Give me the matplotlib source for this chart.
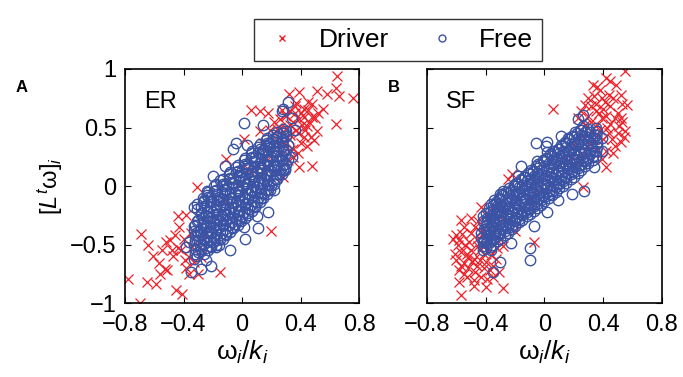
import matplotlib
matplotlib.use("Agg")
import matplotlib.pyplot as plt
from matplotlib.lines import Line2D

plt.rcParams['font.family'] = ['Liberation Sans', 'DejaVu Sans']
plt.rcParams['mathtext.fontset'] = 'custom'
plt.rcParams['mathtext.rm'] = 'Liberation Sans'
plt.rcParams['mathtext.it'] = 'Liberation Sans:italic'

# ---- data: (omega_i/k_i, [L^t omega]_i) ----
# ER panel, driver nodes (red x)
er_driver_x = [0.65, 0.32, 0.39, 0.51, 0.58, 0.64, 0.66, 0.76, 0.64, 0.48, 0.39, 0.12, 0.06, 0.18,
               0.01, -0.11, 0.20, -0.15, -0.69, -0.78, -0.70, -0.64, -0.61, -0.65, -0.59, -0.57,
               -0.53, -0.51, -0.56, -0.52, -0.49, -0.46, -0.43, -0.44, -0.38, -0.31, -0.45, -0.41,
               -0.36, -0.30, -0.28, -0.36, -0.39, -0.34, -0.44,
               0.24, 0.26, 0.29, 0.33, 0.36, 0.39, 0.42, 0.45, 0.48, 0.44, 0.47, 0.42, 0.37, 0.33,
               0.40, 0.44, 0.49, 0.33, 0.28, 0.27, 0.35, 0.31, 0.24, 0.20, 0.17, 0.14, 0.19, 0.12,
               0.37, 0.27, 0.45, 0.51, 0.41,
               0.05, -0.02, -0.13, -0.18, -0.25, -0.29, 0.14, 0.24, 0.28,
               0.22, 0.25, 0.30, 0.32, 0.35, 0.38, 0.40, 0.43, 0.46, 0.50, 0.52, 0.55, 0.48, 0.35,
               0.38, 0.30, 0.26, 0.42, 0.33, 0.36,
               -0.48, -0.42, -0.40, -0.35, -0.33, -0.47, -0.55, -0.38]
er_driver_y = [0.94, 0.79, 0.80, 0.81, 0.79, 0.84, 0.77, 0.75, 0.53, 0.17, 0.16, 0.64, 0.65, 0.62,
               0.40, 0.23, -0.38, -0.73, -0.41, -0.79, -1.00, -0.50, -0.60, -0.82, -0.84, -0.66,
               -0.71, -0.72, -0.75, -0.48, -0.46, -0.42, -0.35, -0.26, -0.25, -0.01, -0.89, -0.92,
               -0.75, -0.75, -0.61, -0.61, -0.63, -0.52, -0.53,
               0.49, 0.57, 0.61, 0.64, 0.68, 0.57, 0.59, 0.65, 0.59, 0.51, 0.42, 0.42, 0.48, 0.44,
               0.37, 0.34, 0.39, 0.31, 0.38, 0.28, 0.25, 0.22, 0.39, 0.28, 0.22, 0.37, 0.48, 0.47,
               0.71, 0.65, 0.72, 0.47, 0.52,
               0.14, 0.02, -0.12, -0.26, -0.41, -0.52, 0.14, 0.14, 0.08,
               0.55, 0.42, 0.50, 0.40, 0.55, 0.45, 0.62, 0.48, 0.55, 0.58, 0.62, 0.66, 0.70, 0.32,
               0.28, 0.60, 0.50, 0.66, 0.52, 0.62,
               -0.55, -0.55, -0.45, -0.40, -0.65, -0.60, -0.55, -0.70]

# ER panel, free nodes (blue o): scattered outer circles
er_free_x = [0.31, 0.28, 0.01, 0.14, 0.27, 0.34, 0.36, 0.34, 0.29, 0.22, 0.18, 0.10, 0.11, 0.02,
             -0.08, -0.21, -0.35, -0.28, -0.36, -0.38, -0.31, -0.33, -0.20, -0.12, -0.06, -0.04,
             0.03, -0.25, -0.18, 0.01]
er_free_y = [0.72, 0.66, 0.54, 0.52, 0.64, 0.58, 0.48, 0.25, 0.14, -0.03, -0.22, -0.26, -0.36, -0.45,
             -0.55, -0.68, -0.73, -0.71, -0.48, -0.52, -0.39, -0.18, 0.09, 0.17, 0.32, 0.37,
             0.35, -0.63, -0.52, -0.35]
# ER panel, free nodes: dense core (solid blue band)
er_core_x = [-0.31, -0.29, -0.30, -0.32, -0.28, -0.31,
             -0.26, -0.24, -0.25, -0.27, -0.23, -0.26, -0.24,
             -0.21, -0.19, -0.20, -0.22, -0.18, -0.21, -0.19,
             -0.16, -0.14, -0.15, -0.13, -0.16, -0.14, -0.15,
             -0.11, -0.09, -0.10, -0.12, -0.08, -0.11, -0.09,
             -0.06, -0.04, -0.05, -0.07, -0.03, -0.06, -0.04,
             -0.01, 0.01, 0.00, -0.02, 0.02, -0.01, 0.01,
             0.04, 0.06, 0.05, 0.03, 0.07, 0.04, 0.06,
             0.09, 0.11, 0.10, 0.08, 0.12, 0.09, 0.11,
             0.14, 0.16, 0.15, 0.13, 0.17, 0.14, 0.16,
             0.19, 0.21, 0.20, 0.18, 0.22, 0.19, 0.21,
             0.24, 0.26, 0.25, 0.23, 0.27, 0.24,
             0.29, 0.31, 0.30, 0.28, 0.30,
             -0.33, -0.32, -0.32, -0.33, -0.31,
             -0.28, -0.27, -0.28, -0.27, -0.28, -0.27,
             -0.23, -0.22, -0.23, -0.22, -0.23, -0.22, -0.23,
             -0.18, -0.17, -0.18, -0.17, -0.18, -0.17, -0.18,
             -0.13, -0.12, -0.13, -0.12, -0.13, -0.12, -0.13,
             -0.08, -0.07, -0.08, -0.07, -0.08, -0.07, -0.08,
             -0.03, -0.02, -0.03, -0.02, -0.03, -0.02, -0.03,
             0.02, 0.03, 0.02, 0.03, 0.02, 0.03, 0.02,
             0.07, 0.08, 0.07, 0.08, 0.07, 0.08, 0.07,
             0.12, 0.13, 0.12, 0.13, 0.12, 0.13, 0.12,
             0.17, 0.18, 0.17, 0.18, 0.17, 0.18, 0.17,
             0.22, 0.23, 0.22, 0.23, 0.22, 0.23,
             0.27, 0.28, 0.27, 0.28, 0.27, 0.28]
er_core_y = [-0.60, -0.50, -0.42, -0.33, -0.25, -0.15,
             -0.58, -0.48, -0.40, -0.31, -0.22, -0.12, -0.04,
             -0.52, -0.44, -0.35, -0.27, -0.18, -0.09, 0.00,
             -0.50, -0.40, -0.30, -0.22, -0.13, -0.05, 0.05,
             -0.42, -0.33, -0.25, -0.16, -0.07, 0.02, 0.10,
             -0.36, -0.28, -0.19, -0.10, -0.02, 0.07, 0.16,
             -0.30, -0.22, -0.13, -0.05, 0.04, 0.12, 0.22,
             -0.25, -0.16, -0.07, 0.02, 0.10, 0.19, 0.28,
             -0.18, -0.10, -0.01, 0.08, 0.16, 0.25, 0.33,
             -0.10, -0.03, 0.06, 0.14, 0.22, 0.31, 0.39,
             -0.03, 0.05, 0.13, 0.21, 0.29, 0.37, 0.44,
             0.06, 0.14, 0.22, 0.30, 0.38, 0.46,
             0.15, 0.23, 0.31, 0.39, 0.47,
             -0.62, -0.54, -0.46, -0.38, -0.30,
             -0.54, -0.45, -0.36, -0.27, -0.18, -0.10,
             -0.55, -0.47, -0.39, -0.30, -0.22, -0.13, -0.05,
             -0.50, -0.41, -0.33, -0.24, -0.16, -0.07, 0.02,
             -0.45, -0.37, -0.28, -0.20, -0.11, -0.03, 0.06,
             -0.39, -0.31, -0.22, -0.14, -0.05, 0.03, 0.12,
             -0.33, -0.25, -0.16, -0.08, 0.01, 0.09, 0.18,
             -0.27, -0.19, -0.10, -0.02, 0.07, 0.15, 0.24,
             -0.21, -0.13, -0.04, 0.04, 0.13, 0.21, 0.30,
             -0.14, -0.06, 0.03, 0.11, 0.20, 0.28, 0.36,
             -0.07, 0.01, 0.10, 0.18, 0.26, 0.34, 0.41,
             0.02, 0.10, 0.18, 0.26, 0.34, 0.42,
             0.10, 0.18, 0.26, 0.34, 0.42, 0.49]
er_core2_x = [-0.30, -0.31, -0.29, -0.30, -0.31,
              -0.25, -0.26, -0.24, -0.25, -0.26, -0.24,
              -0.20, -0.21, -0.19, -0.20, -0.21, -0.19,
              -0.15, -0.16, -0.14, -0.15, -0.16, -0.14,
              -0.10, -0.11, -0.09, -0.10, -0.11, -0.09,
              -0.05, -0.06, -0.04, -0.05, -0.06, -0.04,
              0.00, -0.01, 0.01, 0.00, -0.01, 0.01,
              0.05, 0.04, 0.06, 0.05, 0.04, 0.06,
              0.10, 0.09, 0.11, 0.10, 0.09, 0.11,
              0.15, 0.14, 0.16, 0.15, 0.14, 0.16,
              0.20, 0.19, 0.21, 0.20, 0.19, 0.21,
              0.25, 0.24, 0.26, 0.25, 0.24,
              0.30, 0.29, 0.31, 0.30,
              -0.32, -0.33, -0.32, -0.33,
              -0.27, -0.28, -0.27, -0.28, -0.27,
              -0.22, -0.23, -0.22, -0.23, -0.22, -0.23,
              -0.17, -0.18, -0.17, -0.18, -0.17, -0.18,
              -0.12, -0.13, -0.12, -0.13, -0.12, -0.13,
              -0.07, -0.08, -0.07, -0.08, -0.07, -0.08,
              -0.02, -0.03, -0.02, -0.03, -0.02, -0.03,
              0.03, 0.02, 0.03, 0.02, 0.03, 0.02,
              0.08, 0.07, 0.08, 0.07, 0.08, 0.07,
              0.13, 0.12, 0.13, 0.12, 0.13, 0.12,
              0.18, 0.17, 0.18, 0.17, 0.18, 0.17,
              0.23, 0.22, 0.23, 0.22, 0.23,
              0.28, 0.27, 0.28, 0.27, 0.28]
er_core2_y = [-0.56, -0.46, -0.38, -0.29, -0.20,
              -0.53, -0.44, -0.35, -0.26, -0.17, -0.08,
              -0.48, -0.40, -0.31, -0.22, -0.13, -0.04,
              -0.45, -0.35, -0.26, -0.17, -0.09, 0.00,
              -0.38, -0.29, -0.20, -0.12, -0.03, 0.06,
              -0.32, -0.23, -0.14, -0.06, 0.03, 0.12,
              -0.26, -0.17, -0.09, 0.00, 0.08, 0.17,
              -0.20, -0.11, -0.03, 0.06, 0.15, 0.24,
              -0.14, -0.05, 0.04, 0.12, 0.21, 0.29,
              -0.06, 0.02, 0.10, 0.18, 0.27, 0.35,
              0.01, 0.09, 0.17, 0.25, 0.33, 0.40,
              0.10, 0.18, 0.26, 0.34, 0.42,
              0.19, 0.27, 0.35, 0.43,
              -0.58, -0.50, -0.42, -0.34,
              -0.50, -0.41, -0.32, -0.23, -0.14,
              -0.51, -0.43, -0.35, -0.26, -0.18, -0.09,
              -0.46, -0.37, -0.29, -0.20, -0.12, -0.03,
              -0.41, -0.33, -0.24, -0.16, -0.07, 0.02,
              -0.35, -0.27, -0.18, -0.10, -0.01, 0.07,
              -0.29, -0.21, -0.12, -0.04, 0.05, 0.13,
              -0.23, -0.15, -0.06, 0.02, 0.11, 0.19,
              -0.17, -0.09, 0.00, 0.08, 0.17, 0.25,
              -0.10, -0.02, 0.07, 0.15, 0.24, 0.32,
              -0.03, 0.05, 0.14, 0.22, 0.30, 0.37,
              0.06, 0.14, 0.22, 0.30, 0.38,
              0.14, 0.22, 0.30, 0.38, 0.45]

# SF panel, driver nodes (red x)
sf_driver_x = [0.55, 0.42, 0.49, 0.36, 0.33, 0.53, 0.56, 0.52, 0.51, 0.55, 0.52, 0.48, 0.42, 0.39,
               0.43, 0.39, 0.35, 0.32, 0.28, 0.25, 0.23, 0.41, 0.44, 0.39, 0.34, 0.06, 0.48, 0.45,
               0.38, 0.33, 0.31, 0.36, 0.26, -0.07, -0.28, -0.40, -0.57, -0.58, -0.55, -0.58,
               -0.52, -0.49, -0.44, -0.47, -0.41, -0.39, -0.35, -0.31, -0.60, -0.57, -0.58, -0.60,
               -0.56, -0.57, -0.50, -0.47, -0.43, -0.51, -0.45, -0.41, -0.36, -0.32, -0.28, -0.40,
               -0.43, -0.34, -0.30, -0.25, -0.22, -0.38, -0.36, -0.52, -0.48, -0.61, -0.20, -0.25,
               -0.09, -0.02, 0.07, 0.16, 0.20, 0.26, 0.28, 0.24,
               -0.55, -0.53, -0.50, -0.48, -0.46, -0.44, -0.42, -0.40, -0.38, -0.37, -0.33, -0.30,
               -0.45, -0.50, -0.54, -0.59, -0.62, -0.55, -0.48, -0.43, -0.35, -0.33, -0.29, -0.38,
               -0.41, -0.53, -0.57, -0.46,
               0.30, 0.32, 0.35, 0.37, 0.40, 0.42, 0.45, 0.47, 0.50, 0.53, 0.44, 0.46, 0.40, 0.36,
               0.50, 0.54, 0.38, 0.45, 0.52, 0.28, 0.33, 0.42, 0.47, 0.30, 0.26]
sf_driver_y = [0.98, 0.92, 0.86, 0.85, 0.86, 0.70, 0.69, 0.58, 0.51, 0.47, 0.38, 0.34, 0.16, 0.23,
               0.50, 0.58, 0.64, 0.68, 0.69, 0.64, 0.58, 0.72, 0.78, 0.75, 0.77, 0.66, 0.58, 0.53,
               0.48, 0.45, 0.36, 0.31, -0.01, -0.48, -0.87, -0.86, -0.93, -0.82, -0.75, -0.72,
               -0.70, -0.65, -0.63, -0.73, -0.70, -0.79, -0.68, -0.73, -0.63, -0.56, -0.46, -0.42,
               -0.41, -0.29, -0.27, -0.35, -0.39, -0.48, -0.51, -0.58, -0.59, -0.53, -0.51, -0.25,
               -0.18, -0.21, -0.15, 0.06, 0.10, -0.46, -0.38, -0.61, -0.80, -0.58, -0.38, -0.29,
               -0.12, -0.01, 0.16, 0.21, 0.36, 0.43, 0.30, 0.21,
               -0.66, -0.58, -0.55, -0.62, -0.45, -0.55, -0.50, -0.65, -0.55, -0.72, -0.62, -0.45,
               -0.30, -0.40, -0.50, -0.50, -0.45, -0.35, -0.85, -0.78, -0.78, -0.35, -0.28, -0.30,
               -0.40, -0.78, -0.68, -0.68,
               0.60, 0.55, 0.70, 0.62, 0.66, 0.60, 0.68, 0.75, 0.62, 0.55, 0.45, 0.40, 0.40, 0.52,
               0.45, 0.42, 0.82, 0.90, 0.78, 0.52, 0.40, 0.30, 0.28, 0.75, 0.55]

# SF panel, free nodes (blue o): scattered outer circles
sf_free_x = [0.26, 0.23, 0.11, 0.02, 0.01, -0.06, 0.02, -0.05, -0.16, -0.18, -0.28, -0.30, -0.33,
             -0.36, -0.42, -0.36, -0.35, -0.30, -0.23, -0.10, -0.10, -0.07, 0.02, 0.09, 0.19,
             0.27, 0.34, 0.39, 0.39, 0.35]
sf_free_y = [0.61, 0.57, 0.43, 0.38, 0.34, 0.37, 0.29, 0.21, 0.17, 0.09, -0.04, -0.07, -0.15,
             -0.27, -0.48, -0.55, -0.73, -0.65, -0.49, -0.53, -0.63, -0.34, -0.22, -0.12, -0.07,
             -0.04, 0.16, 0.30, 0.41, 0.50]
# SF panel, free nodes: dense core (solid blue band)
sf_core_x = [-0.42, -0.41, -0.43, -0.40, -0.42,
             -0.37, -0.36, -0.38, -0.35, -0.37, -0.36,
             -0.32, -0.31, -0.33, -0.30, -0.32, -0.31,
             -0.27, -0.26, -0.28, -0.25, -0.27, -0.26,
             -0.22, -0.21, -0.23, -0.20, -0.22, -0.21,
             -0.17, -0.16, -0.18, -0.15, -0.17, -0.16,
             -0.12, -0.11, -0.13, -0.10, -0.12, -0.11,
             -0.07, -0.06, -0.08, -0.05, -0.07, -0.06,
             -0.02, -0.01, -0.03, 0.00, -0.02, -0.01,
             0.03, 0.04, 0.02, 0.05, 0.03, 0.04,
             0.08, 0.09, 0.07, 0.10, 0.08, 0.09,
             0.13, 0.14, 0.12, 0.15, 0.13, 0.14,
             0.18, 0.19, 0.17, 0.20, 0.18, 0.19,
             0.23, 0.24, 0.22, 0.25, 0.23, 0.24,
             0.28, 0.29, 0.27, 0.30, 0.28,
             0.33, 0.34, 0.32, 0.35,
             -0.40, -0.39, -0.40, -0.39, -0.40,
             -0.35, -0.34, -0.35, -0.34, -0.35, -0.34,
             -0.30, -0.29, -0.30, -0.29, -0.30, -0.29,
             -0.25, -0.24, -0.25, -0.24, -0.25, -0.24,
             -0.20, -0.19, -0.20, -0.19, -0.20, -0.19,
             -0.15, -0.14, -0.15, -0.14, -0.15, -0.14,
             -0.10, -0.09, -0.10, -0.09, -0.10, -0.09,
             -0.05, -0.04, -0.05, -0.04, -0.05, -0.04,
             0.00, 0.01, 0.00, 0.01, 0.00, 0.01,
             0.05, 0.06, 0.05, 0.06, 0.05, 0.06,
             0.10, 0.11, 0.10, 0.11, 0.10, 0.11,
             0.15, 0.16, 0.15, 0.16, 0.15, 0.16,
             0.20, 0.21, 0.20, 0.21, 0.20, 0.21,
             0.25, 0.26, 0.25, 0.26, 0.25, 0.26,
             0.30, 0.31, 0.30, 0.31, 0.30,
             0.35, 0.36, 0.35, 0.36]
sf_core_y = [-0.55, -0.47, -0.40, -0.33, -0.26,
             -0.52, -0.44, -0.37, -0.29, -0.22, -0.15,
             -0.47, -0.40, -0.32, -0.25, -0.17, -0.10,
             -0.42, -0.34, -0.27, -0.19, -0.12, -0.05,
             -0.37, -0.29, -0.22, -0.14, -0.07, 0.01,
             -0.31, -0.24, -0.16, -0.09, -0.01, 0.06,
             -0.26, -0.19, -0.11, -0.04, 0.04, 0.11,
             -0.21, -0.13, -0.06, 0.02, 0.09, 0.17,
             -0.16, -0.08, -0.01, 0.07, 0.14, 0.22,
             -0.10, -0.03, 0.05, 0.12, 0.20, 0.27,
             -0.05, 0.03, 0.10, 0.18, 0.25, 0.32,
             0.00, 0.08, 0.15, 0.23, 0.30, 0.38,
             0.06, 0.13, 0.21, 0.28, 0.36, 0.43,
             0.11, 0.18, 0.26, 0.33, 0.41, 0.48,
             0.17, 0.24, 0.31, 0.39, 0.46,
             0.22, 0.30, 0.37, 0.44,
             -0.53, -0.46, -0.38, -0.31, -0.23,
             -0.50, -0.42, -0.35, -0.27, -0.20, -0.12,
             -0.45, -0.37, -0.30, -0.22, -0.15, -0.07,
             -0.40, -0.32, -0.25, -0.17, -0.10, -0.02,
             -0.34, -0.27, -0.19, -0.12, -0.04, 0.03,
             -0.29, -0.22, -0.14, -0.07, 0.01, 0.08,
             -0.24, -0.16, -0.09, -0.01, 0.06, 0.14,
             -0.19, -0.11, -0.04, 0.04, 0.11, 0.19,
             -0.13, -0.06, 0.02, 0.09, 0.17, 0.24,
             -0.08, 0.00, 0.07, 0.15, 0.22, 0.30,
             -0.02, 0.05, 0.13, 0.20, 0.28, 0.35,
             0.03, 0.11, 0.18, 0.26, 0.33, 0.41,
             0.08, 0.16, 0.23, 0.31, 0.38, 0.46,
             0.14, 0.21, 0.29, 0.36, 0.44, 0.51,
             0.20, 0.27, 0.35, 0.42, 0.49,
             0.26, 0.33, 0.40, 0.47]
sf_core2_x = [-0.42, -0.43, -0.41, -0.42,
              -0.37, -0.38, -0.36, -0.37, -0.38,
              -0.32, -0.33, -0.31, -0.32, -0.33,
              -0.27, -0.28, -0.26, -0.27, -0.28,
              -0.22, -0.23, -0.21, -0.22, -0.23,
              -0.17, -0.18, -0.16, -0.17, -0.18,
              -0.12, -0.13, -0.11, -0.12, -0.13,
              -0.07, -0.08, -0.06, -0.07, -0.08,
              -0.02, -0.03, -0.01, -0.02, -0.03,
              0.03, 0.02, 0.04, 0.03, 0.02,
              0.08, 0.07, 0.09, 0.08, 0.07,
              0.13, 0.12, 0.14, 0.13, 0.12,
              0.18, 0.17, 0.19, 0.18, 0.17,
              0.23, 0.22, 0.24, 0.23, 0.22,
              0.28, 0.27, 0.29, 0.28,
              0.33, 0.32, 0.34,
              -0.40, -0.39, -0.40, -0.39,
              -0.35, -0.34, -0.35, -0.34, -0.35,
              -0.30, -0.29, -0.30, -0.29, -0.30,
              -0.25, -0.24, -0.25, -0.24, -0.25,
              -0.20, -0.19, -0.20, -0.19, -0.20,
              -0.15, -0.14, -0.15, -0.14, -0.15,
              -0.10, -0.09, -0.10, -0.09, -0.10,
              -0.05, -0.04, -0.05, -0.04, -0.05,
              0.00, 0.01, 0.00, 0.01, 0.00,
              0.05, 0.06, 0.05, 0.06, 0.05,
              0.10, 0.11, 0.10, 0.11, 0.10,
              0.15, 0.16, 0.15, 0.16, 0.15,
              0.20, 0.21, 0.20, 0.21, 0.20,
              0.25, 0.26, 0.25, 0.26, 0.25,
              0.30, 0.31, 0.30, 0.31,
              0.35, 0.36, 0.35]
sf_core2_y = [-0.51, -0.44, -0.37, -0.30,
              -0.48, -0.41, -0.33, -0.26, -0.19,
              -0.43, -0.36, -0.28, -0.21, -0.14,
              -0.38, -0.31, -0.23, -0.16, -0.08,
              -0.33, -0.26, -0.18, -0.11, -0.03,
              -0.28, -0.20, -0.13, -0.05, 0.02,
              -0.22, -0.15, -0.07, 0.00, 0.08,
              -0.17, -0.10, -0.02, 0.05, 0.13,
              -0.12, -0.05, 0.03, 0.10, 0.18,
              -0.07, 0.01, 0.08, 0.16, 0.23,
              -0.01, 0.06, 0.14, 0.21, 0.29,
              0.04, 0.12, 0.19, 0.27, 0.34,
              0.10, 0.17, 0.25, 0.32, 0.40,
              0.15, 0.22, 0.30, 0.37, 0.45,
              0.21, 0.28, 0.35, 0.43,
              0.26, 0.34, 0.41,
              -0.49, -0.42, -0.34, -0.27,
              -0.46, -0.38, -0.31, -0.23, -0.16,
              -0.41, -0.33, -0.26, -0.18, -0.11,
              -0.36, -0.28, -0.21, -0.13, -0.06,
              -0.30, -0.23, -0.15, -0.08, 0.00,
              -0.25, -0.18, -0.10, -0.03, 0.05,
              -0.20, -0.12, -0.05, 0.03, 0.10,
              -0.15, -0.07, 0.00, 0.08, 0.15,
              -0.09, -0.02, 0.06, 0.13, 0.21,
              -0.04, 0.04, 0.11, 0.19, 0.26,
              0.02, 0.09, 0.17, 0.24, 0.32,
              0.07, 0.15, 0.22, 0.30, 0.37,
              0.12, 0.20, 0.27, 0.35, 0.42,
              0.18, 0.25, 0.33, 0.40, 0.48,
              0.24, 0.31, 0.39, 0.46,
              0.30, 0.37, 0.44]

panels = [
    ('ER', 'A', er_driver_x, er_driver_y,
     er_free_x + er_core_x + er_core2_x, er_free_y + er_core_y + er_core2_y),
    ('SF', 'B', sf_driver_x, sf_driver_y,
     sf_free_x + sf_core_x + sf_core2_x, sf_free_y + sf_core_y + sf_core2_y),
]

x_ticks = [-0.8, -0.4, 0, 0.4, 0.8]
x_ticklabels = ['\u22120.8', '\u22120.4', '0', '0.4', '0.8']
y_ticks = [-1, -0.5, 0, 0.5, 1]
y_ticklabels = ['\u22121', '\u22120.5', '0', '0.5', '1']

red = '#ec2028'
blue = '#3b53a4'

fig = plt.figure(figsize=(6.83, 3.77), dpi=100)
axes_pos = [[0.183, 0.196, 0.343, 0.621], [0.625, 0.196, 0.344, 0.621]]

for pos, (name, letter, dx, dy, fx, fy) in zip(axes_pos, panels):
    ax = fig.add_axes(pos)
    ax.plot(dx, dy, 'x', color=red, markersize=6.5, markeredgewidth=0.9, linestyle='none')
    ax.plot(fx, fy, 'o', color=blue, markerfacecolor='none', markersize=7.5,
            markeredgewidth=1.0, linestyle='none')
    ax.set_xlim(-0.8, 0.8)
    ax.set_ylim(-1, 1)
    ax.set_xticks(x_ticks)
    ax.set_xticklabels(x_ticklabels)
    ax.set_yticks(y_ticks)
    if letter == 'A':
        ax.set_yticklabels(y_ticklabels)
        ax.set_ylabel(r'$[L^{t}$ω$]_{i}$', fontsize=17, labelpad=4)
    else:
        ax.set_yticklabels([])
    ax.tick_params(direction='in', top=True, right=True, length=4, width=0.8,
                   labelsize=17)
    ax.tick_params(axis='x', pad=8)
    ax.tick_params(axis='y', pad=6)
    for sp in ax.spines.values():
        sp.set_linewidth(1.2)
    ax.set_xlabel(r'ω$_i$/$k_i$', fontsize=19, labelpad=2)
    ax.text(0.08, 0.86, name, transform=ax.transAxes, fontsize=17, va='center')
    fig.text(pos[0] - 0.16 if letter == 'A' else pos[0] - 0.057, 0.767, letter,
             fontsize=12, fontweight='bold', va='center')

handles = [Line2D([], [], marker='x', color=red, linestyle='none', markersize=5),
           Line2D([], [], marker='o', color=blue, markerfacecolor='none', linestyle='none',
                  markersize=5)]
fig.legend(handles, ['Driver', 'Free'], loc='upper center', bbox_to_anchor=(0.583, 0.985),
           ncol=2, fontsize=19, frameon=True, fancybox=False, edgecolor='black',
           handlelength=1.4, handletextpad=0.7, columnspacing=1.3, borderpad=0.35)

fig.savefig('out.png', dpi=100)
